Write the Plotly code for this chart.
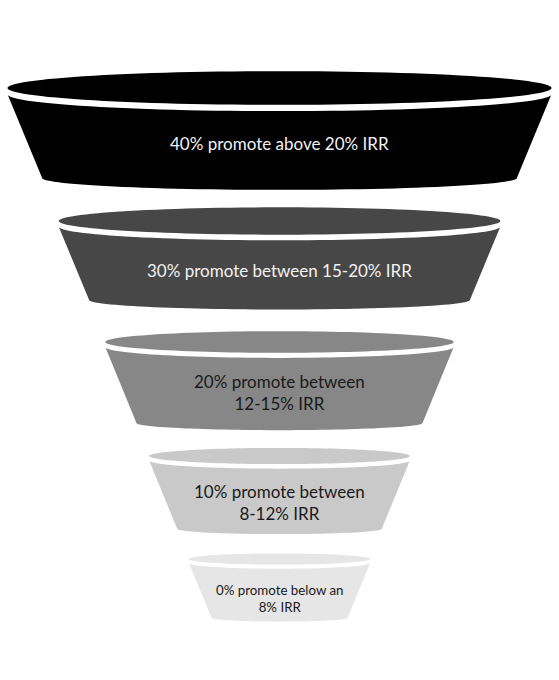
"""Promote tiers drawn as a stacked 3-D style funnel."""
import numpy as np
import plotly.graph_objects as go

# data
TIER_LABELS = [
    "40% promote above 20% IRR",
    "30% promote between 15-20% IRR",
    "20% promote between<br>12-15% IRR",
    "10% promote between<br>8-12% IRR",
    "0% promote below an<br>8% IRR",
]
PROMOTE_SHARE = [40, 30, 20, 10, 0]

# styling
TIER_COLORS = ["#000000", "#474747", "#878787", "#c9c9c9", "#e6e6e6"]
TEXT_COLORS = ["#f2f2f2", "#f2f2f2", "#1a1a1a", "#1a1a1a", "#1a1a1a"]
TEXT_SIZES = [17, 17, 17, 17, 13.3]

# funnel geometry in page pixels (cone: half width shrinks linearly going down)
W, H = 559, 680
CX = W / 2
CONE_Y0, CONE_HW0, CONE_SLOPE = 88, 272, 0.385
TIER_TOP = [88, 221, 342, 456, 559]
TIER_BOTTOM = [178, 300, 423, 529, 618]


def half_width(y):
    return CONE_HW0 - CONE_SLOPE * (y - CONE_Y0)


def arc(cy, hw, ry, start, end, n=60):
    t = np.linspace(start, end, n)
    return CX + hw * np.cos(t), cy + ry * np.sin(t)


def to_path(xs, ys):
    pts = " L ".join(f"{x:.2f},{y:.2f}" for x, y in zip(xs, ys))
    return f"M {pts} Z"


fig = go.Figure()

for i, label in enumerate(TIER_LABELS):
    yt, yb = TIER_TOP[i], TIER_BOTTOM[i]
    hw_t, hw_b = half_width(yt), half_width(yb)
    ry_t, ry_b = 0.062 * hw_t, 0.05 * hw_b
    shift = 3 + 0.012 * hw_t

    # body: lower arc of the (shifted) rim, sides, lower arc of the bottom
    tx, ty = arc(yt + shift, hw_t, ry_t, np.pi, 0)
    bx, by = arc(yb, hw_b, ry_b, 0, np.pi)
    fig.add_shape(
        type="path",
        path=to_path(np.r_[tx, bx], np.r_[ty, by]),
        xref="x", yref="y",
        fillcolor=TIER_COLORS[i], line_width=0, layer="below",
    )
    # top ellipse
    ex, ey = arc(yt, hw_t, ry_t, 0, 2 * np.pi, 120)
    fig.add_shape(
        type="path",
        path=to_path(ex, ey),
        xref="x", yref="y",
        fillcolor=TIER_COLORS[i], line_width=0, layer="below",
    )
    fig.add_annotation(
        x=CX, y=(yt + yb) / 2 + 10, text=label, showarrow=False,
        xref="x", yref="y",
        font=dict(family="Lato", size=TEXT_SIZES[i], color=TEXT_COLORS[i]),
    )

fig.update_xaxes(range=[0, W], visible=False, fixedrange=True)
fig.update_yaxes(range=[H, 0], visible=False, fixedrange=True)
fig.update_layout(
    width=W, height=H, autosize=False,
    margin=dict(l=0, r=0, t=0, b=0),
    paper_bgcolor="white", plot_bgcolor="white",
    showlegend=False,
)

# the page body has a default 8px margin; drop it so the chart fills the window
fig.write_html(
    "out.html",
    config={"displayModeBar": False},
    post_script="document.body.style.margin='0';document.body.style.overflow='hidden';",
)
